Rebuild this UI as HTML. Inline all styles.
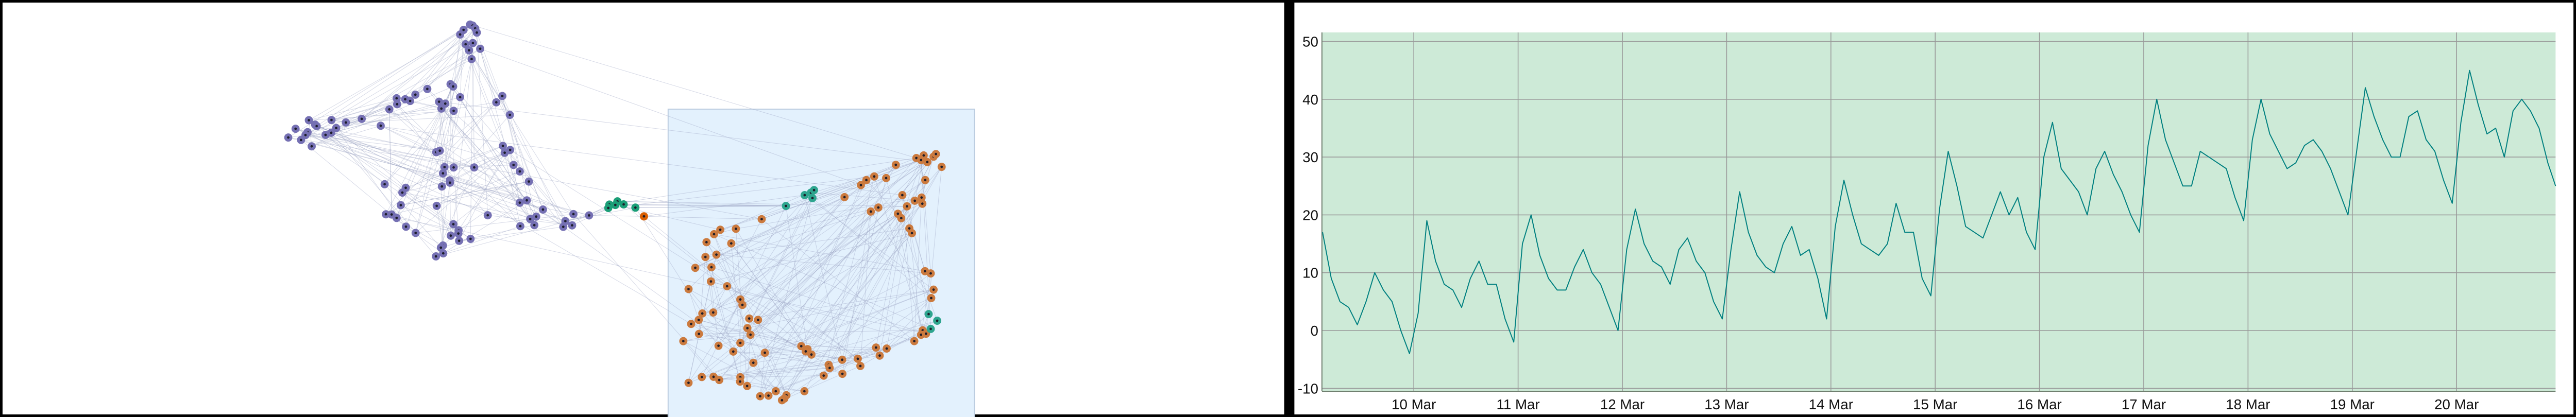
<!DOCTYPE html>
<html><head><meta charset="utf-8"><style>
html,body{margin:0;padding:0;background:#000;width:100%;height:100%;overflow:hidden;}
svg{display:block;width:100vw;height:100vh;font-family:"Liberation Sans",sans-serif;}
</style></head><body>
<svg id="root" viewBox="0 0 5047 810" preserveAspectRatio="none">
  <rect x="0" y="0" width="5047" height="810" fill="#000"/>
  <g>
    <rect x="5" y="5" width="2511" height="800" fill="#fff"/>
    <rect x="1309" y="212" width="600" height="600" fill="#e3f1fd" stroke="#bccde0" stroke-width="2"/>
    <g id="edges"></g>
    <g id="nodes"></g>
  </g>
  <g>
    <rect x="2536" y="5" width="2506" height="800" fill="#fff"/>
    <rect id="plotbg" fill="#cdead7"/>
    <g id="grid"></g>
    <g id="yaxis"></g>
    <g id="xaxis"></g>
    <path id="series" fill="none" stroke="#008080" stroke-width="2" stroke-linejoin="round"/>
  </g>
</svg>
<script>
const purpleNodesZ6 = [[825,75],[835,80],[845,95],[800,103],[787,127],[851,117],[808,178],[836,172],[821,210],[864,202],[831,256],
[750,388],[760,400],[661,413],[615,443],[543,462],[576,467],[595,476],[545,493],[515,520],[706,480],[730,490],[715,516],[762,528],[787,456],[949,450],[926,483],[978,549],
[206,577],[293,576],[348,589],[409,570],[482,606],[155,622],[230,600],[236,608],[311,618],[201,640],[193,655],[127,668],[176,681],[270,654],[292,643],[217,714],
[695,745],[709,737],[951,712],[979,733],[958,748],
[727,823],[762,825],[721,856],[841,825],[992,812],[1016,846],[747,893],[748,905],[717,925],[497,913],[578,932],[565,957],[1051,899],
[559,1023],[697,1027],[1016,1010],[1043,998],[1105,1046],[502,1071],[524,1072],[543,1090],[893,1076],[579,1136],[616,1169],[761,1123],[781,1155],[780,1172],[751,1183],[783,1210],[827,1200],[1056,1096],[1079,1083],[1018,1133],[1072,1128],[1222,1070],[1282,1077],[1191,1107],[1183,1137],[1217,1129],[721,1235],[713,1246],[722,1276],[694,1292]];
const greenNodesZ6 = [[1360,1020],[1356,1038],[1391,1003],[1383,1022],[1415,1019],[1460,1036]];
const redNodesZ6 = [[1493,1082]];
const tealNodesZ7 = [[836,460],[860,448],[872,435],[866,475],[764,514],[1312,1054],[1345,1087],[1320,1128]];
const orangeNodesZ7 = [[1265,275],[1293,262],[1283,285],[1307,295],[1331,268],[1340,255],[1362,319],[1186,309],[1299,385],[1103,367],[1073,385],[1052,410],[1149,375],[989,470],[1211,460],[1259,488],[1285,472],[1288,503],[1229,516],[1119,522],[1090,542],[1194,553],[1207,575],[1238,626],[1248,650],[671,580],[572,628],[512,633],[488,655],[459,695],[554,701],[497,757],[455,769],[416,823],[478,820],[476,891],[538,915],[390,929],[1298,840],[1320,851],[1331,932],[1322,974],[589,981],[597,1008],[485,1046],[443,1051],[429,1083],[400,1103],[623,1076],[657,1083],[616,1124],[628,1157],[430,1153],[370,1189],[505,1212],[589,1198],[562,1241],[683,1247],[639,1297],[823,1214],[847,1229],[840,1240],[862,1256],[1110,1221],[1151,1226],[1124,1261],[1257,1189],[1289,1135],[1283,1157],[1302,1152],[980,1282],[1040,1277],[1050,1313],[928,1307],[932,1323],[909,1361],[981,1352],[390,1397],[441,1368],[486,1367],[508,1383],[589,1369],[588,1391],[615,1413],[665,1464],[697,1461],[725,1439],[766,1459],[758,1476],[749,1484],[835,1439]];

const startHour = 3;
const stepHours = 2;
const seriesValues = [17,9,5,4,1,5,10,7,5,0,-4,3,19,12,8,7,4,9,12,8,8,2,-2,15,20,13,9,7,7,11,14,10,8,4,0,14,21,15,12,11,8,14,16,12,10,5,2,
14,24,17,13,11,10,15,18,13,14,9,2,18,26,20,15,14,13,15,22,17,17,9,6,21,31,25,18,17,16,20,24,20,
23,17,14,30,36,28,26,24,20,28,31,27,24,20,17,32,40,33,29,25,25,31,30,29,28,23,19,33,40,34,31,28,29,32,
33,31,28,24,20,31,42,37,33,30,30,37,38,33,31,26,22,36,45,39,34,35,30,38,40,38,35,29,25];
const yTicks = [-10,0,10,20,30,40,50];
const dayTickLabels = ["10 Mar","11 Mar","12 Mar","13 Mar","14 Mar","15 Mar","16 Mar","17 Mar","18 Mar","19 Mar","20 Mar"];

const NS = "http://www.w3.org/2000/svg";
function mk(tag, attrs, parent){const e=document.createElementNS(NS,tag);for(const k in attrs)e.setAttribute(k,attrs[k]);parent.appendChild(e);return e;}

const z6 = p => [500 + p[0]/1.96, 20 + p[1]/2.703];
const z7 = p => [1150 + p[0]/1.96, 200 + p[1]/2.57];
const purple = purpleNodesZ6.map(z6), green = greenNodesZ6.map(z6), red = redNodesZ6.map(z6);
const teal = tealNodesZ7.map(z7), orange = orangeNodesZ7.map(z7);

const edgesG = document.getElementById('edges');
function edge(a,b){
  const l = mk('line',{x1:a[0].toFixed(1),y1:a[1].toFixed(1),x2:b[0].toFixed(1),y2:b[1].toFixed(1),stroke:'#98a0c0','stroke-width':1,'stroke-opacity':0.4},edgesG);
  
  
}
function clusterEdges(arr, m1, m2){
  const n=arr.length;
  for(let i=0;i<n;i++){ edge(arr[i],arr[(i*m1+3)%n]); edge(arr[i],arr[(i*m2+5)%n]); }
}
clusterEdges(purple,7,13);
clusterEdges(orange,11,17);
for(let i=0;i<green.length;i++){ edge(green[i], teal[4]); edge(green[i], purple[84+(i%4)]); edge(green[i], orange[(i*9)%orange.length]); }
edge(red[0], orange[25]); edge(red[0], orange[60]); edge(red[0], teal[0]); edge(red[0], purple[84]);
for(let i=0;i<teal.length;i++){ edge(teal[i], orange[(i*13+2)%orange.length]); edge(teal[i], orange[(i*5+40)%orange.length]); edge(teal[i], orange[(i*7+70)%orange.length]); }
for(let i=0;i<10;i++){ edge(purple[(i*9+20)%purple.length], orange[(i*11+3)%orange.length]); }

const nodesG = document.getElementById('nodes');
function drawNodes(arr, color, name){
  arr.forEach(p=>{
    const c = mk('circle',{cx:p[0].toFixed(1),cy:p[1].toFixed(1),r:8,fill:color},nodesG);
    
    
    const d = mk('circle',{cx:p[0].toFixed(1),cy:p[1].toFixed(1),r:2.4,fill:'#1c1c2a'},nodesG);
    
    
  });
}
drawNodes(purple,'#7570b3','purple-node');
drawNodes(orange,'#cb7a3e','orange-node');
drawNodes(teal,'#2ea58f','teal-node');
drawNodes(green,'#1b9e77','green-node');
drawNodes(red,'#d95f02','red-node');

const X0=2590, X1=5007, Y0=63, Y1=760;
const pxPerHour = 204.3/24;
const xOf = h => 2770 + (h-24)*pxPerHour;
const yOf = v => 80.5 + (50 - v)*11.23;
const bg=document.getElementById('plotbg');
bg.setAttribute('x',X0);bg.setAttribute('y',Y0);bg.setAttribute('width',X1-X0);bg.setAttribute('height',Y1-Y0);

const grid=document.getElementById('grid'), yax=document.getElementById('yaxis'), xax=document.getElementById('xaxis');
yTicks.forEach(t=>{
  const y=yOf(t);
  const g=mk('line',{x1:X0,x2:X1,y1:y,y2:y,stroke:'#9a9a9a','stroke-width':1.6},grid);
  
  
  const tx=mk('text',{x:X0-7,y:y+10,'text-anchor':'end','font-size':28,fill:'#111'},yax);
  tx.textContent=String(t);
  
  
});
dayTickLabels.forEach((lab,i)=>{
  const x=xOf(24*(i+1));
  const g=mk('line',{x1:x,x2:x,y1:Y0,y2:Y1,stroke:'#9a9a9a','stroke-width':1.6},grid);
  
  
  const tx=mk('text',{x:x,y:795,'text-anchor':'middle','font-size':28,fill:'#111'},xax);
  tx.textContent=lab;
  
  
});
const ya=mk('line',{x1:X0,x2:X0,y1:Y0,y2:Y1,stroke:'#6f7f6f','stroke-width':2},yax);


const xa=mk('line',{x1:X0,x2:X1,y1:Y1,y2:Y1,stroke:'#6f7f6f','stroke-width':2},xax);



let d='';
seriesValues.forEach((v,i)=>{
  const x=Math.min(X1, xOf(startHour+i*stepHours));
  d+=(i?'L':'M')+x.toFixed(1)+' '+yOf(v).toFixed(1);
});
document.getElementById('series').setAttribute('d',d);
</script>
</body></html>
